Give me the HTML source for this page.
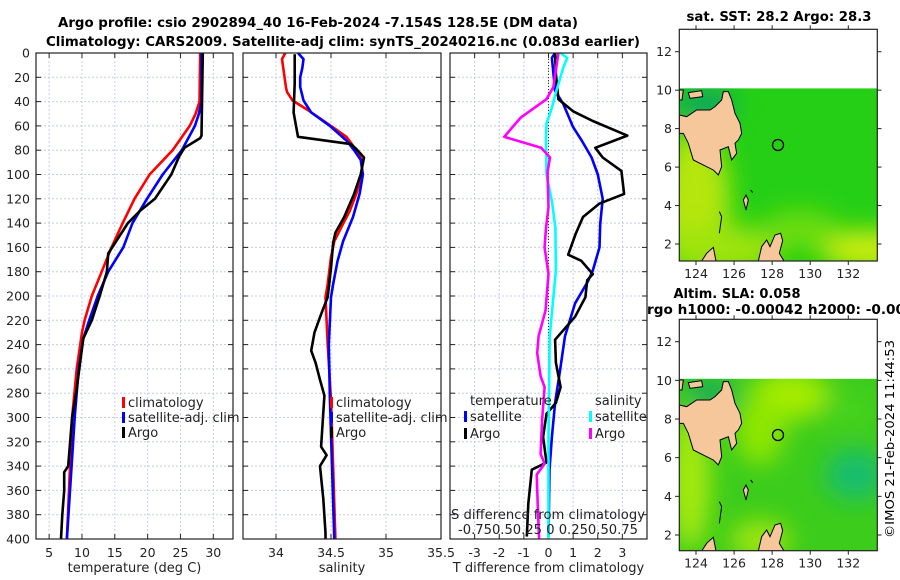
<!DOCTYPE html>
<html><head><meta charset="utf-8"><style>
html,body{margin:0;padding:0;background:#fff;}
svg{display:block;font-family:"DejaVu Sans","Liberation Sans",sans-serif;}
</style></head><body>
<svg id="fig" width="900" height="580" viewBox="0 0 900 580" xmlns="http://www.w3.org/2000/svg">
<defs>
<clipPath id="cm1"><rect x="679.3" y="88.3" width="198" height="172.7"/></clipPath>
<clipPath id="cm2"><rect x="679.3" y="378.7" width="198" height="172"/></clipPath>
<filter id="blur" x="-50%" y="-50%" width="200%" height="200%"><feGaussianBlur stdDeviation="12"/></filter>
<g id="land">
<path fill="#f6c79a" stroke="#000" stroke-width="3" d="M58,345 L80,350 L110,330 L150,330 L165,320 L185,300 L190,275 L205,275 L215,300 L225,340 L240,370 L245,400 L235,420 L225,430 L230,460 L215,480 L205,440 L180,450 L185,500 L175,525 L160,510 L140,500 L100,480 L85,430 L70,400 L58,400 Z"/>
<path fill="#f6c79a" stroke="#000" stroke-width="3" d="M85,278 L125,272 L128,290 L90,295 Z"/>
<path fill="#f6c79a" stroke="#000" stroke-width="3" d="M58,270 L70,270 L66,300 L58,300 Z"/>
<path fill="#f6c79a" stroke="#000" stroke-width="3" d="M295,783 L305,740 L320,720 L330,740 L345,705 L362,700 L368,722 L358,760 L372,783 Z"/>
<path fill="#f6c79a" stroke="#000" stroke-width="3" d="M250,600 L258,585 L265,600 L258,630 Z"/>
<path fill="#f6c79a" stroke="#000" stroke-width="3" d="M125,783 L140,760 L160,742 L168,783 Z"/>
<path fill="none" stroke="#000" stroke-width="3" d="M178,635 L185,650 L178,700 M272,570 L278,578"/>
</g>
</defs>

<g font-weight="bold" font-size="13" text-anchor="middle" fill="#000">
<text x="318" y="27" textLength="520" lengthAdjust="spacingAndGlyphs">Argo profile: csio 2902894_40 16-Feb-2024 -7.154S 128.5E (DM data)</text>
<text x="343" y="46" textLength="594" lengthAdjust="spacingAndGlyphs">Climatology: CARS2009. Satellite-adj clim: synTS_20240216.nc (0.083d earlier)</text>
</g>

<g id="panels"></g>

<!-- Map 1 -->
<g>
<text x="779" y="21" font-weight="bold" font-size="13" text-anchor="middle" textLength="185" lengthAdjust="spacingAndGlyphs">sat. SST: 28.2 Argo: 28.3</text>
<g clip-path="url(#cm1)">
<rect x="679.3" y="88.3" width="198" height="173" fill="#25cf16"/>
<g filter="url(#blur)">
<ellipse cx="695" cy="200" rx="35" ry="70" fill="#b5e611"/>
<ellipse cx="720" cy="250" rx="60" ry="25" fill="#9fe30f"/>
<ellipse cx="870" cy="250" rx="50" ry="20" fill="#c9ec0f"/>
<ellipse cx="705" cy="105" rx="30" ry="18" fill="#10a85c"/>
<ellipse cx="800" cy="230" rx="40" ry="20" fill="#6cdc10"/>
</g>
<use href="#land" transform="translate(660,0) scale(0.3333)"/>
</g>
<rect x="679.3" y="29.3" width="198" height="231.7" fill="none" stroke="#222" stroke-width="1.2"/>
<circle id="argo-pos-1" cx="778" cy="145" r="5.5" fill="none" stroke="#000" stroke-width="1.3"/>
</g>

<!-- Map 2 -->
<g>
<text x="737" y="298" font-weight="bold" font-size="13" text-anchor="middle" textLength="127" lengthAdjust="spacingAndGlyphs">Altim. SLA: 0.058</text>
<text x="776" y="314" font-weight="bold" font-size="13" text-anchor="middle" textLength="258" lengthAdjust="spacingAndGlyphs">rgo h1000: -0.00042 h2000: -0.00</text>
<g clip-path="url(#cm2)">
<rect x="679.3" y="378.7" width="198" height="172" fill="#3ccc1c"/>
<g filter="url(#blur)">
<ellipse cx="790" cy="395" rx="40" ry="25" fill="#a6ec00"/>
<ellipse cx="760" cy="430" rx="25" ry="35" fill="#8fe606"/>
<ellipse cx="690" cy="480" rx="20" ry="70" fill="#a8ea0a"/>
<ellipse cx="760" cy="540" rx="30" ry="20" fill="#9ee60a"/>
<ellipse cx="855" cy="475" rx="30" ry="25" fill="#16bd70"/>
<ellipse cx="710" cy="395" rx="25" ry="15" fill="#14aa5c"/>
<ellipse cx="850" cy="410" rx="30" ry="20" fill="#44d21a"/>
</g>
<use href="#land" transform="translate(660,290) scale(0.3333)"/>
</g>
<rect x="679.3" y="319.3" width="198" height="231.4" fill="none" stroke="#222" stroke-width="1.2"/>
<circle cx="778" cy="435" r="5.5" fill="none" stroke="#000" stroke-width="1.3"/>
</g>
<g id="mapticks"></g>

<text transform="translate(894,439) rotate(-90)" font-size="12" text-anchor="middle" textLength="198" lengthAdjust="spacingAndGlyphs">©IMOS 21-Feb-2024 11:44:53</text>
</svg>
<script>
// ---------- DATA ----------
const depthTicks = [0,20,40,60,80,100,120,140,160,180,200,220,240,260,280,300,320,340,360,380,400];
const tempTicks = [5,10,15,20,25,30];
const salTicks = [34,34.5,35,35.5];
const tdiffTicks = [-3,-2,-1,0,1,2,3];

const tClimDepth = [0,40,50,60,80,100,120,140,160,180,200,220,230,260,300,350,400];
const tClim = [28.0,27.9,27.3,26.4,23.8,20.3,18.0,16.2,14.5,13.0,11.5,10.4,10.0,9.2,8.5,8.1,7.7];
const tSatDepth = [0,40,50,60,80,100,120,140,160,180,200,220,235,260,300,350,400];
const tSat = [28.2,28.2,27.8,27.2,25.2,22.3,19.9,17.7,16.3,14.0,12.4,11.1,10.2,9.5,8.9,8.3,7.7];
const tArgoDepth = [0,68,70,78,85,100,120,130,140,165,180,200,220,235,280,300,340,345,360,380,400];
const tArgo = [28.4,28.2,28.0,25.6,24.8,23.6,21.1,18.8,17.0,14.0,13.8,12.7,11.5,10.2,9.1,8.5,7.9,7.3,7.3,7.0,6.8];

const sClimDepth = [0,5,28,32,39,47,60,69,80,88,100,116,130,144,155,168,190,201,240,285,400];
const sClim = [34.085,34.055,34.09,34.10,34.15,34.29,34.50,34.64,34.73,34.78,34.78,34.73,34.67,34.59,34.53,34.50,34.47,34.45,34.47,34.50,34.54];
const sSatDepth = [0,5,12,20,28,39,49,60,72,80,88,100,116,135,155,171,190,201,240,285,400];
const sSat = [34.20,34.25,34.24,34.22,34.22,34.25,34.32,34.49,34.64,34.71,34.77,34.79,34.76,34.70,34.61,34.56,34.52,34.50,34.48,34.49,34.53];
const sArgoDepth = [1,25,49,69,75,79,86,100,116,135,148,156,177,201,215,230,245,255,269,282,324,331,340,367,395,400];
const sArgo = [34.17,34.17,34.16,34.20,34.68,34.73,34.80,34.77,34.71,34.62,34.54,34.52,34.50,34.47,34.41,34.35,34.32,34.36,34.40,34.44,34.41,34.46,34.40,34.43,34.45,34.45];

const dTSatDepth = [0,4,31,42,61,72,86,100,120,141,160,179,188,206,233,261,288,316,343,398];
const dTSat = [0.27,0.14,0.27,0.6,1.0,1.35,1.75,2.0,2.2,2.1,2.07,1.8,1.6,1.08,0.67,0.47,0.27,0.14,0.04,0.0];
const dTArgoDepth = [0,17,38,48,56,68,78,86,97,116,124,135,149,166,171,182,187,201,217,236,255,275,288,297,316,337,343,371,398];
const dTArgo = [0.27,0.3,0.4,1.0,1.8,3.2,1.9,2.2,2.96,3.07,2.06,1.4,1.1,0.8,1.33,1.8,1.57,1.5,1.08,0.27,0.3,0.49,0.3,-0.08,-0.22,-0.08,-0.68,-0.82,-0.88];
const dSSatDepth = [0,4,12,31,45,58,72,100,122,144,179,233,316,400];
const dSSat = [0.12,0.19,0.15,0.08,0.035,-0.02,-0.025,-0.02,0.035,0.07,0.075,0.012,0.0,0.0];
const dSArgoDepth = [0,28,38,53,69,78,86,98,127,144,160,182,212,233,247,266,275,302,330,338,347,371,400];
const dSArgo = [0.1,0.05,-0.02,-0.28,-0.45,-0.075,0.015,-0.01,0.0,-0.025,-0.04,0.0,-0.03,-0.1,-0.115,-0.08,-0.04,-0.065,-0.08,-0.04,-0.12,-0.11,-0.095];
const sDiffFactor = 4; // S diff plotted on T axis scaled x4

const latTicks = [12,10,8,6,4,2];
const lonTicks = [124,126,128,130,132];

// ---------- DRAWING ----------
const NS = 'http://www.w3.org/2000/svg';
const root = document.getElementById('panels');
function mk(tag, attrs, parent){ const e=document.createElementNS(NS,tag); for(const k in attrs) e.setAttribute(k,attrs[k]); (parent||root).appendChild(e); return e; }
const Y0=53, Y1=539;
function yScale(d){ return Y0 + d/400*(Y1-Y0); }
function lin(d0,d1,r0,r1){ return v => r0 + (v-d0)/(d1-d0)*(r1-r0); }

const panels = [
 {name:'temperature-panel', x0:36, x1:233, dom:[3,33], ticks:tempTicks, title:'temperature (deg C)', tfmt:v=>String(v)},
 {name:'salinity-panel', x0:243, x1:441, dom:[33.7,35.5], ticks:salTicks, title:'salinity', tfmt:v=>String(v)},
 {name:'difference-panel', x0:450, x1:647, dom:[-4,4], ticks:tdiffTicks, title:'T difference from climatology', tfmt:v=>String(v)}
];
panels.forEach((p,i)=>{
  p.x = lin(p.dom[0],p.dom[1],p.x0,p.x1);
  const g = mk('g',{});
  
  
  p.g = g;
  depthTicks.forEach(d=>{ if(d>0&&d<400){ mk('line',{x1:p.x0,x2:p.x1,y1:yScale(d),y2:yScale(d),stroke:'#c5cbe6','stroke-width':1,'stroke-dasharray':'2,2'},g);} });
  p.ticks.forEach(v=>{ const X=p.x(v); if(X>p.x0+1&&X<p.x1-1) mk('line',{x1:X,x2:X,y1:Y0,y2:Y1,stroke:'#c5cbe6','stroke-width':1,'stroke-dasharray':'2,2'},g); });
  depthTicks.forEach(d=>{ const Y=yScale(d); mk('line',{x1:p.x0,x2:p.x0+5,y1:Y,y2:Y,stroke:'#222'},g); mk('line',{x1:p.x1-5,x2:p.x1,y1:Y,y2:Y,stroke:'#222'},g); });
  p.ticks.forEach(v=>{ const X=p.x(v); mk('line',{x1:X,x2:X,y1:Y0,y2:Y0+5,stroke:'#222'},g); mk('line',{x1:X,x2:X,y1:Y1-5,y2:Y1,stroke:'#222'},g);
    const t=mk('text',{x:X,y:557,'font-size':12.5,'text-anchor':'middle',fill:'#222'},g); t.textContent=p.tfmt(v);
    
     });
  const xt = mk('text',{x:(p.x0+p.x1)/2,y:572,'font-size':13,'text-anchor':'middle',fill:'#222'},g);
  xt.textContent = p.title;
  
  
});
depthTicks.forEach(d=>{ const t=mk('text',{x:30,y:yScale(d)+4.5,'font-size':12.5,'text-anchor':'end',fill:'#222'});
  t.textContent=d;
  
   });

const P3=panels[2];
mk('line',{x1:P3.x(0),x2:P3.x(0),y1:Y0,y2:Y1,stroke:'#333','stroke-width':1,'stroke-dasharray':'1,2'},P3.g);

function series(p, depths, vals, color, name, factor){
  const f = factor||1;
  const pts = depths.map((d,i)=> p.x(vals[i]*f).toFixed(1)+','+yScale(d).toFixed(1)).join(' ');
  const pl = mk('polyline',{points:pts,fill:'none',stroke:color,'stroke-width':2.6,'stroke-linejoin':'round'},p.g);
  
  
}
series(panels[0], tClimDepth, tClim, '#f00', 'temp-climatology-line');
series(panels[0], tSatDepth, tSat, '#00f', 'temp-satellite-line');
series(panels[0], tArgoDepth, tArgo, '#000', 'temp-argo-line');
series(panels[1], sClimDepth, sClim, '#f00', 'sal-climatology-line');
series(panels[1], sSatDepth, sSat, '#00f', 'sal-satellite-line');
series(panels[1], sArgoDepth, sArgo, '#000', 'sal-argo-line');
series(P3, dTSatDepth, dTSat, '#00f', 'tdiff-satellite-line');
series(P3, dTArgoDepth, dTArgo, '#000', 'tdiff-argo-line');
series(P3, dSSatDepth, dSSat, '#0ff', 'sdiff-satellite-line', sDiffFactor);
series(P3, dSArgoDepth, dSArgo, '#f0f', 'sdiff-argo-line', sDiffFactor);

panels.forEach(p=>{ mk('rect',{x:p.x0,y:Y0,width:p.x1-p.x0,height:Y1-Y0,fill:'none',stroke:'#222','stroke-width':1.2},p.g); });

function legend(g, x, y, color, label, name){
  mk('rect',{x:x,y:y-10,width:3,height:11,fill:color},g);
  const t = mk('text',{x:x+6,y:y,'font-size':13,fill:'#222'},g);
  t.textContent = label;
  
  
}
legend(panels[0].g,122,407,'#f00','climatology','legend-climatology');
legend(panels[0].g,122,422,'#00f','satellite-adj. clim','legend-satellite-adj');
legend(panels[0].g,122,437,'#000','Argo','legend-argo');
legend(panels[1].g,330,407,'#f00','climatology','legend-climatology');
legend(panels[1].g,330,422,'#00f','satellite-adj. clim','legend-satellite-adj');
legend(panels[1].g,330,437,'#000','Argo','legend-argo');
let tt = mk('text',{x:470,y:405,'font-size':13,fill:'#222'},P3.g); tt.textContent='temperature';


tt = mk('text',{x:595,y:405,'font-size':13,fill:'#222'},P3.g); tt.textContent='salinity';


legend(P3.g,464,421,'#00f','satellite','legend-tdiff-satellite');
legend(P3.g,464,438,'#000','Argo','legend-tdiff-argo');
legend(P3.g,589,421,'#0ff','satellite','legend-sdiff-satellite');
legend(P3.g,589,438,'#f0f','Argo','legend-sdiff-argo');
tt = mk('text',{x:548,y:519,'font-size':13,'text-anchor':'middle',fill:'#222',textLength:194,lengthAdjust:'spacingAndGlyphs'},P3.g); tt.textContent='S difference from climatology';


tt = mk('text',{x:548,y:534,'font-size':13,'text-anchor':'middle',fill:'#222',textLength:180,lengthAdjust:'spacingAndGlyphs'},P3.g); tt.textContent='-0.750.50.25 0  0.250.50.75';



const mt = document.getElementById('mapticks');
const lonX = lin(124,132,696,848.3);
[[29.3,261,51.7,244],[319.3,550.7,341.7,535]].forEach((m,mi)=>{
  const latY = lin(12,2,m[2],m[3]);
  latTicks.forEach(v=>{ const Y=latY(v);
    mk('line',{x1:679.3,x2:675,y1:Y,y2:Y,stroke:'#222'},mt); mk('line',{x1:877.3,x2:881.5,y1:Y,y2:Y,stroke:'#222'},mt);
    const t=mk('text',{x:672,y:Y+4.5,'font-size':12.5,'text-anchor':'end',fill:'#222'},mt); t.textContent=v;
    
     });
  lonTicks.forEach(v=>{ const X=lonX(v);
    mk('line',{x1:X,x2:X,y1:m[1],y2:m[1]+4,stroke:'#222'},mt); mk('line',{x1:X,x2:X,y1:m[0],y2:m[0]-4,stroke:'#222'},mt);
    const t=mk('text',{x:X,y:m[1]+17,'font-size':12.5,'text-anchor':'middle',fill:'#222'},mt); t.textContent=v;
    
     });
});
</script>
</body></html>
